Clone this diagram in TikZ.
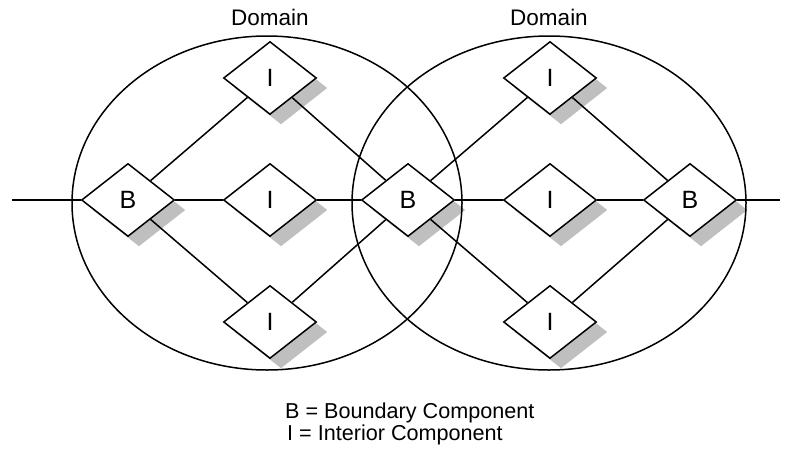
\documentclass[tikz,border=0pt]{standalone}
\usepackage{fontspec}
\setmainfont{Liberation Sans}
\usetikzlibrary{shapes.geometric,shadows,positioning}
\tikzset{comp/.style={diamond,draw,line width=1.5pt,fill=white,minimum width=93pt,minimum height=73pt,inner sep=0pt,font=\fontsize{25}{28}\selectfont,drop shadow={shadow xshift=11pt,shadow yshift=-10pt,fill=black!25,opacity=1}}, link/.style={line width=1.5pt}, dombound/.style={line width=1.5pt}, lbl/.style={inner sep=0pt,font=\fontsize{22.5}{26}\selectfont}}
\begin{document}
\begin{tikzpicture}[x=1pt,y=-1pt]
\useasboundingbox (0,0) rectangle (794,450);
\node[comp] (bl) at (128,200) {B};\node[comp] (bm) at (408,200) {B};\node[comp] (br) at (690,200) {B};
\node[comp] (it1) at (270,78) {I};\node[comp] (im1) at (270,200) {I};\node[comp] (ib1) at (270,322) {I};
\node[comp] (it2) at (550,78) {I};\node[comp] (im2) at (550,200) {I};\node[comp] (ib2) at (550,322) {I};
\coordinate (west) at (12,200);\coordinate (east) at (780,200);
\draw[link] (west)--(bl);\draw[link] (br)--(east);
\foreach \i in {it1,im1,ib1} {\draw[link] (bl)--(\i);\draw[link] (\i)--(bm);}
\foreach \i in {it2,im2,ib2} {\draw[link] (bm)--(\i);\draw[link] (\i)--(br);}
\draw[dombound] (267,203) ellipse (195 and 167);\draw[dombound] (549,203) ellipse (197 and 167);
\node[lbl,anchor=base] (d1) at (270,25) {Domain};\node[lbl,anchor=base] (d2) at (549,25) {Domain};
\node[lbl,anchor=base west,font=\fontsize{21.6}{25}\selectfont] (key1) at (285,418) {B = Boundary Component};
\node[lbl,anchor=base west,font=\fontsize{21.6}{25}\selectfont] (key2) at (287,440) {I = Interior Component};
\end{tikzpicture}
\end{document}
